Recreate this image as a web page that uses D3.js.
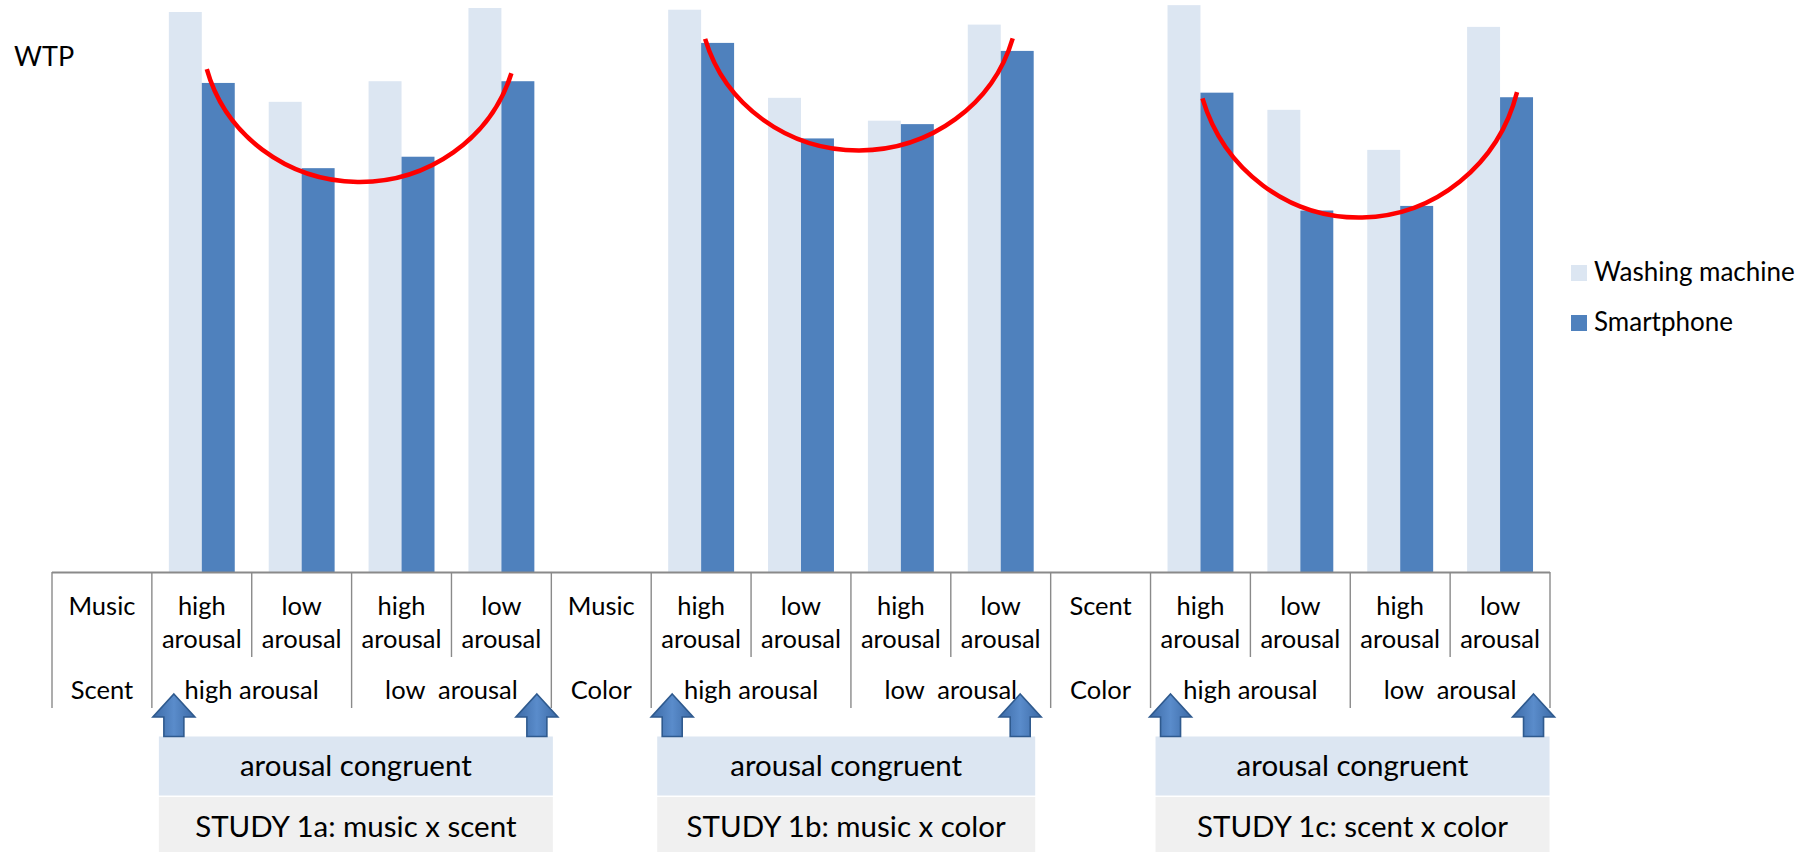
<!DOCTYPE html>
<html>
<head>
<meta charset="utf-8">
<script src="https://cdn.jsdelivr.net/npm/d3@7"></script>
<style>
  html, body { margin: 0; padding: 0; background: #fff; }
  svg { display: block; font-family: Lato, "Open Sans", sans-serif; }
</style>
</head>
<body>
<div id="chart"></div>
<script>
const studies = ["STUDY 1a: music x scent", "STUDY 1b: music x color", "STUDY 1c: scent x color"];
const firstFactor = ["Music", "Music", "Scent"];
const secondFactor = ["Scent", "Color", "Color"];
const firstLevels = ["high arousal", "low arousal", "high arousal", "low arousal"];
const secondLevels = ["high arousal", "low  arousal"];
const seriesNames = ["Washing machine", "Smartphone"];
const washingMachine = [
    [97.9, 82.2, 85.8, 98.6],
    [98.3, 82.9, 78.9, 95.7],
    [99.1, 80.8, 73.8, 95.3]
];
const smartphone = [
    [85.5, 70.6, 72.6, 85.8],
    [92.5, 75.8, 78.3, 91.1],
    [83.8, 63.2, 64.0, 83.0]
];
// red U-shaped trend marks: ends in slot units, heights in WTP units
const arcFrom = [1.55, 6.54, 11.52];
const arcTo = [4.60, 9.62, 14.67];
const arcEndLeft = [87.9, 93.2, 82.8];
const arcEndRight = [87.2, 93.3, 83.9];
const arcBottom = [68.2, 73.7, 62.0];
const noteText = "arousal congruent";

const W = 1814, H = 852;
const colors = { "Washing machine": "#dce6f2", "Smartphone": "#4f81bd" };
const lineColor = "#8a8a8a";

const svg = d3.select("#chart").append("svg")
    .attr("width", W)
    .attr("height", H);

svg.append("rect").attr("width", W).attr("height", H).attr("fill", "#fff");

// 1. Slots: one factor-label slot + four level slots per study
const slots = [];
studies.forEach((s, i) => {
    slots.push({ id: `f${i}`, study: i, kind: "factor" });
    firstLevels.forEach((l, j) => slots.push({ id: `l${i}-${j}`, study: i, level: j, kind: "level", label: l }));
});

const axisY = 572;
const x = d3.scaleBand().domain(slots.map(d => d.id)).range([52, 1550]).padding(0);
const xs = d3.scaleLinear().domain([0, slots.length]).range([52, 1550]);
const y = d3.scaleLinear().domain([0, 100]).range([axisY, 0]);
const xSub = d3.scaleBand().domain(seriesNames).range([0, x.bandwidth()]).paddingOuter(0.515).paddingInner(0);

// 2. Bars
const barData = [];
studies.forEach((s, i) => {
    firstLevels.forEach((l, j) => {
        barData.push({ id: `l${i}-${j}`, series: seriesNames[0], value: washingMachine[i][j] });
        barData.push({ id: `l${i}-${j}`, series: seriesNames[1], value: smartphone[i][j] });
    });
});

svg.append("g").selectAll("rect")
    .data(barData)
    .enter()
    .append("rect")
    .attr("x", d => x(d.id) + xSub(d.series))
    .attr("y", d => y(d.value))
    .attr("width", xSub.bandwidth())
    .attr("height", d => axisY - y(d.value))
    .attr("fill", d => colors[d.series]);

// 3. Table-like axis: top line + separators
const grid = svg.append("g").attr("stroke", lineColor).attr("stroke-width", 1.4);
grid.append("line")
    .attr("x1", xs(0)).attr("x2", xs(slots.length))
    .attr("y1", axisY + 0.5).attr("y2", axisY + 0.5)
    .attr("stroke-width", 2);

d3.range(slots.length + 1).forEach(k => {
    const short = (k % 5 === 2 || k % 5 === 4);
    grid.append("line")
        .attr("x1", xs(k)).attr("x2", xs(k))
        .attr("y1", axisY).attr("y2", short ? 657 : 708);
});

// 4. Labels
const labels = svg.append("g").attr("font-size", 25.5).attr("fill", "#000").attr("text-anchor", "middle");

slots.forEach(d => {
    const cx = x(d.id) + x.bandwidth() / 2;
    if (d.kind === "factor") {
        labels.append("text").attr("x", cx).attr("y", 615).text(firstFactor[d.study]);
        labels.append("text").attr("x", cx).attr("y", 699).text(secondFactor[d.study]);
    } else {
        const parts = d.label.split(" ");
        const t = labels.append("text").attr("x", cx).attr("y", 615);
        t.append("tspan").attr("x", cx).attr("y", 615).text(parts[0]);
        t.append("tspan").attr("x", cx).attr("y", 648).text(parts[1]);
    }
});

studies.forEach((s, i) => {
    secondLevels.forEach((l, g) => {
        const start = x(`l${i}-${g * 2}`);
        labels.append("text")
            .attr("x", start + x.bandwidth())
            .attr("y", 699)
            .style("white-space", "pre")
            .text(l);
    });
});

// 5. Red U-shaped arcs (elliptical)
const k = 1.04;
const sk = Math.sqrt(1 - 1 / (k * k));
studies.forEach((s, i) => {
    const x0 = xs(arcFrom[i]), x1 = xs(arcTo[i]);
    const y0 = y(arcEndLeft[i]), y1 = y(arcEndRight[i]);
    const yb = y(arcBottom[i]);
    const rx = k * (x1 - x0) / 2;
    const ry = (yb - (y0 + y1) / 2) / (1 - sk);
    svg.append("path")
        .attr("d", `M${x0},${y0} A${rx},${ry} 0 0 0 ${x1},${y1}`)
        .attr("fill", "none")
        .attr("stroke", "#ff0000")
        .attr("stroke-width", 4.5);
});

// 6. Arrows + annotation boxes
const noteLayout = [
    { boxLeft: 7, boxRight: 401, arrowLeft: 22, arrowRight: 385 },
    { boxLeft: 6, boxRight: 384, arrowLeft: 21, arrowRight: 369 },
    { boxLeft: 5, boxRight: 399, arrowLeft: 20, arrowRight: 383 }
];

const defs = svg.append("defs");
const grad = defs.append("linearGradient").attr("id", "arrowFill").attr("x1", "0").attr("x2", "1").attr("y1", "0").attr("y2", "0");
grad.append("stop").attr("offset", "0%").attr("stop-color", "#3c6aa6");
grad.append("stop").attr("offset", "50%").attr("stop-color", "#5a8ccb");
grad.append("stop").attr("offset", "100%").attr("stop-color", "#3c6aa6");

function arrowPath(cx) {
    const tip = 694, base = 717, bottom = 736.5;
    return `M${cx},${tip} L${cx + 21},${base} L${cx + 10},${base} L${cx + 10},${bottom} ` +
        `L${cx - 10},${bottom} L${cx - 10},${base} L${cx - 21},${base} Z`;
}

studies.forEach((s, i) => {
    const g0 = x(`l${i}-0`);
    const lay = noteLayout[i];
    const bl = g0 + lay.boxLeft, br = g0 + lay.boxRight;

    svg.append("rect")
        .attr("x", bl).attr("y", 736.5)
        .attr("width", br - bl).attr("height", 59)
        .attr("fill", "#dce6f2");
    svg.append("rect")
        .attr("x", bl).attr("y", 797)
        .attr("width", br - bl).attr("height", 55)
        .attr("fill", "#f0f0f0");

    svg.append("text")
        .attr("x", (bl + br) / 2).attr("y", 776)
        .attr("text-anchor", "middle").attr("font-size", 29.5)
        .text(noteText);
    svg.append("text")
        .attr("x", (bl + br) / 2).attr("y", 837)
        .attr("text-anchor", "middle").attr("font-size", 29.5)
        .text(s);

    [lay.arrowLeft, lay.arrowRight].forEach(off => {
        svg.append("path")
            .attr("d", arrowPath(g0 + off))
            .attr("fill", "url(#arrowFill)")
            .attr("stroke", "#2f5a8e")
            .attr("stroke-width", 1.6)
            .attr("stroke-linejoin", "miter");
    });
});

// 7. WTP label + legend
svg.append("text").attr("x", 14).attr("y", 66).attr("font-size", 27).text("WTP");

const legend = svg.append("g").attr("transform", "translate(1571,265)");
seriesNames.forEach((n, i) => {
    const row = legend.append("g").attr("transform", `translate(0,${i * 50})`);
    row.append("rect").attr("width", 16).attr("height", 16).attr("fill", colors[n]);
    row.append("text").attr("x", 23).attr("y", 16).attr("font-size", 26).text(n);
});
</script>
</body>
</html>
